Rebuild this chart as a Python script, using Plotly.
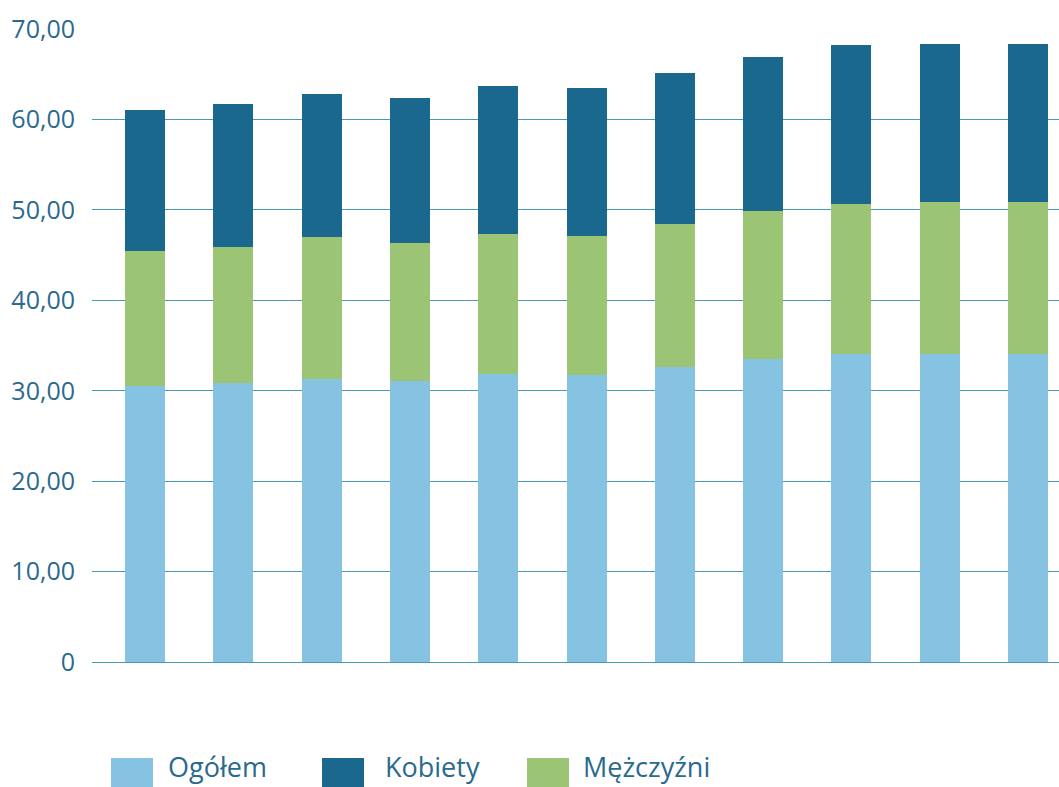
import plotly.graph_objects as go

categories = [str(i) for i in range(1, 12)]
ogolem = [30.54, 30.84, 31.31, 31.09, 31.90, 31.76, 32.64, 33.53, 34.11, 34.11, 34.11]
mezczyzni = [14.92, 15.12, 15.69, 15.24, 15.43, 15.35, 15.80, 16.35, 16.55, 16.77, 16.77]
kobiety = [15.59, 15.74, 15.80, 16.04, 16.36, 16.36, 16.69, 17.01, 17.57, 17.46, 17.46]
tick_vals = [0, 10, 20, 30, 40, 50, 60, 70]
tick_text = ["0", "10,00", "20,00", "30,00", "40,00", "50,00", "60,00", "70,00"]

C_OG = "#86C3E2"
C_KOB = "#1B688F"
C_MEZ = "#9BC575"
TXT = "#2A6A8E"
GRID = "#4A97B8"
FONT = "Open Sans"

x = list(range(len(categories)))
fig = go.Figure()
for vals, name, col in [(ogolem, "Ogółem", C_OG), (mezczyzni, "Mężczyźni", C_MEZ), (kobiety, "Kobiety", C_KOB)]:
    fig.add_bar(x=x, y=vals, name=name, marker=dict(color=col, line=dict(width=0)), width=0.453)

fig.update_layout(
    barmode="stack",
    width=1059, height=787,
    margin=dict(l=92, r=0, t=29, b=125),
    paper_bgcolor="white", plot_bgcolor="white",
    showlegend=False,
    font=dict(family=FONT, color=TXT, size=25),
    xaxis=dict(range=[-0.6, 10.35], showticklabels=False, showgrid=False,
               zeroline=False, showline=False, ticks=""),
    yaxis=dict(range=[0, 70.02], tickvals=tick_vals, ticktext=tick_text,
               showgrid=True, gridcolor=GRID, gridwidth=1.3,
               zeroline=True, zerolinecolor=GRID, zerolinewidth=1.3,
               showline=False, ticks="outside", ticklen=11, tickcolor="rgba(0,0,0,0)",
               tickfont=dict(size=25, color=TXT, family=FONT)),
)

legend_items = [("Ogółem", C_OG, 111, 166), ("Kobiety", C_KOB, 322, 383), ("Mężczyźni", C_MEZ, 527, 581)]
for name, col, sx, tx in legend_items:
    fig.add_shape(type="rect", xref="paper", yref="paper",
                  x0=(sx - 92) / 967, x1=(sx + 42 - 92) / 967,
                  y0=(662 - 800) / 633, y1=(662 - 758) / 633,
                  fillcolor=col, line_width=0, layer="above")
    fig.add_annotation(text=name, xref="paper", yref="paper",
                       x=(tx - 92) / 967, y=(662 - 787) / 633,
                       xanchor="left", yanchor="bottom", showarrow=False,
                       font=dict(size=27, color=TXT, family=FONT))

fig.write_html("out.html", config={"displayModeBar": False},
               post_script="document.body.style.margin='0';document.body.style.overflow='hidden';")
